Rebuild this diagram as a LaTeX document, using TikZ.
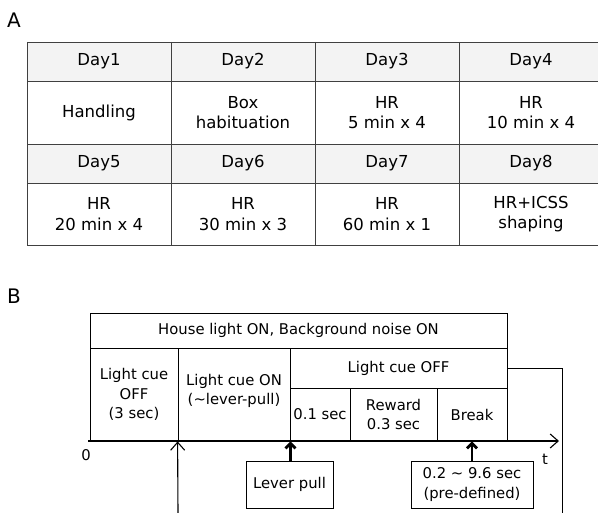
\documentclass[tikz,border=0pt]{standalone}
\usepackage{fontspec}
\setmainfont{DejaVu Sans}
\usetikzlibrary{arrows.meta}
\definecolor{headgray}{HTML}{F3F3F3}
\definecolor{tablegray}{HTML}{404040}

\begin{document}
\begin{tikzpicture}[x=1pt, y=-1pt,
        txt/.style = {font=\fontsize{16.5}{20.5}\selectfont, align=center, inner sep=0pt},
        btxt/.style = {font=\fontsize{14.8}{19.5}\selectfont, align=center, inner sep=0pt},
        seg/.style = {draw, thick, btxt},
        thinarrow/.style = {line width=1.1pt, -{Straight Barb[length=8pt, width=14pt]}},
        bigarrow/.style = {line width=2.8pt, -{Straight Barb[length=5pt, width=10pt]}}]
        \useasboundingbox (0, 0) rectangle (598, 513);

        \node[font=\fontsize{20}{20}\selectfont] (lblA) at (14, 20) {A};
        \node[font=\fontsize{20}{20}\selectfont] (lblB) at (14, 296) {B};

        \fill[headgray] (27, 42) rectangle (598, 81);
        \fill[headgray] (27, 144) rectangle (598, 183);
        \draw[tablegray, thick] (27, 42) -- (598, 42);
        \draw[tablegray, thick] (27, 81) -- (598, 81);
        \draw[tablegray, thick] (27, 144) -- (598, 144);
        \draw[tablegray, thick] (27, 183) -- (598, 183);
        \draw[tablegray, thick] (27, 245) -- (598, 245);
        \draw[tablegray, thick] (27, 42) -- (27, 245);
        \draw[tablegray, thick] (171, 42) -- (171, 245);
        \draw[tablegray, thick] (315, 42) -- (315, 245);
        \draw[tablegray, thick] (459, 42) -- (459, 245);

        \node[txt] (d1) at (99, 61.5) {Day1};
        \node[txt] (d2) at (243, 61.5) {Day2};
        \node[txt] (d3) at (387, 61.5) {Day3};
        \node[txt] (d4) at (531, 61.5) {Day4};
        \node[txt] (t1) at (99, 112.5) {Handling};
        \node[txt] (t2) at (243, 112.5) {Box\\habituation};
        \node[txt] (t3) at (387, 112.5) {HR\\5 min x 4};
        \node[txt] (t4) at (531, 112.5) {HR\\10 min x 4};
        \node[txt] (d5) at (99, 163.5) {Day5};
        \node[txt] (d6) at (243, 163.5) {Day6};
        \node[txt] (d7) at (387, 163.5) {Day7};
        \node[txt] (d8) at (531, 163.5) {Day8};
        \node[txt] (t5) at (99, 214) {HR\\20 min x 4};
        \node[txt] (t6) at (243, 214) {HR\\30 min x 3};
        \node[txt] (t7) at (387, 214) {HR\\60 min x 1};
        \node[txt] (t8) at (531, 214) {HR+ICSS\\shaping};

        \node[seg, minimum width=417pt, minimum height=35pt] (house) at (298.5, 330.5) {House light ON, Background noise ON};
        \node[seg, minimum width=88pt, minimum height=93pt] (cueoff) at (134, 394.5) {Light cue\\OFF\\(3 sec)};
        \node[seg, minimum width=112pt, minimum height=93pt] (cueon) at (234, 394.5) {};
        \node[btxt] (cueontxt) at (234, 391) {Light cue ON\\(\textasciitilde lever-pull)};
        \node[seg, minimum width=217pt, minimum height=40pt] (cueoff2) at (398.5, 368) {Light cue OFF};
        \node[seg, minimum width=60pt, minimum height=53pt] (delay) at (320, 414.5) {0.1 sec};
        \node[seg, minimum width=87pt, minimum height=53pt] (reward) at (393.5, 414.5) {Reward\\0.3 sec};
        \node[seg, minimum width=70pt, minimum height=53pt] (break) at (472, 414.5) {Break};

        \coordinate (t0) at (88, 441);
        \coordinate (tend) at (559, 441);
        \draw[thinarrow] (t0) -- (tend);
        \node[btxt] (zero) at (86, 455) {0};
        \node[btxt] (tlbl) at (545, 459) {t};

        \node[seg, minimum width=87pt, minimum height=47pt] (lever) at (289.5, 484.5) {Lever pull};
        \node[seg, minimum width=122pt, minimum height=47pt] (predef) at (472, 484.5) {0.2 \textasciitilde{} 9.6 sec\\(pre-defined)};

        \coordinate (loopin) at (178, 513);
        \coordinate (loopout) at (562, 513);
        \draw[thinarrow] (loopin) -- (cueon.south west);
        \draw[thick] (cueoff2.east) -- (cueoff2.east -| loopout) -- (loopout);
        \draw[bigarrow] (lever.north -| cueon.south east) -- (cueon.south east);
        \draw[bigarrow] (predef.north) -- (break.south);

    \end{tikzpicture}
\end{document}
